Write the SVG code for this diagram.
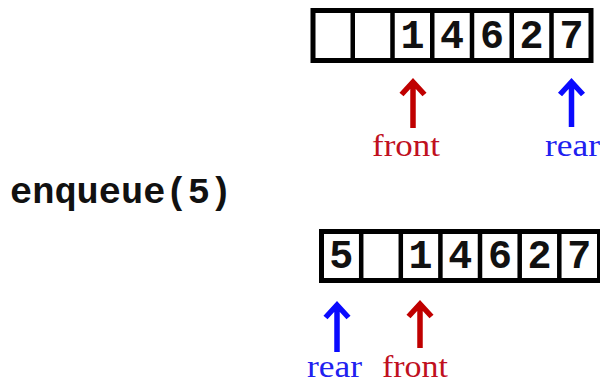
<svg xmlns="http://www.w3.org/2000/svg" width="600" height="385" viewBox="0 0 600 385">
<style>
.box{fill:#fff;stroke:#000;stroke-width:5}
.div{stroke:#000;stroke-width:4.5}
.dig{font-family:"Liberation Mono","Courier New",monospace;font-size:40px;font-weight:bold;fill:#111;text-anchor:middle}
.cmd{font-family:"Liberation Mono","Courier New",monospace;font-size:37px;font-weight:bold;fill:#111}
.lbl{font-family:"Liberation Serif","Times New Roman",serif;font-size:32px}
.red{fill:#c0101e}
.blue{fill:#2020f0}
.ar{fill:none;stroke-width:5.5}
.ar-r{stroke:#c00000}
.ar-b{stroke:#0a0aff}
</style>
<rect width="600" height="385" fill="#fff"/>
<g id="queue-before">
<rect class="box" x="313" y="10.5" width="278" height="50"/>
<path class="div" d="M352.75 10.5V60.5M392.5 10.5V60.5M432.25 10.5V60.5M472 10.5V60.5M511.75 10.5V60.5M551.5 10.5V60.5"/>
<text class="dig" x="412.4" y="48">1</text>
<text class="dig" x="452.1" y="48">4</text>
<text class="dig" x="491.9" y="48">6</text>
<text class="dig" x="531.6" y="48">2</text>
<text class="dig" x="571.4" y="48">7</text>
</g>
<g id="label-front-1"><text class="lbl red" x="372" y="156" textLength="68" lengthAdjust="spacingAndGlyphs">front</text></g>
<g id="label-rear-1"><text class="lbl blue" x="545" y="156" textLength="55" lengthAdjust="spacingAndGlyphs">rear</text></g>
<g id="command"><text class="cmd" x="10" y="203">enqueue(5)</text></g>
<g id="queue-after">
<rect class="box" x="321.5" y="231.5" width="278" height="49"/>
<path class="div" d="M361.2 231.5V280.5M400.8 231.5V280.5M440.4 231.5V280.5M480 231.5V280.5M519.7 231.5V280.5M559.3 231.5V280.5"/>
<text class="dig" x="341.3" y="268">5</text>
<text class="dig" x="420.6" y="268">1</text>
<text class="dig" x="460.2" y="268">4</text>
<text class="dig" x="499.9" y="268">6</text>
<text class="dig" x="539.5" y="268">2</text>
<text class="dig" x="579.2" y="268">7</text>
</g>
<g id="label-rear-2"><text class="lbl blue" x="307" y="377" textLength="55" lengthAdjust="spacingAndGlyphs">rear</text></g>
<g id="label-front-2"><text class="lbl red" x="382" y="377" textLength="66" lengthAdjust="spacingAndGlyphs">front</text></g>
<g id="connectors">
<path class="ar ar-r" d="M413 128V83M401.5 94.5L413 82L424.5 94.5"/>
<path class="ar ar-b" d="M571.5 127V83M560 94.5L571.5 82L583 94.5"/>
<path class="ar ar-b" d="M337 352V306M325.5 317.5L337 305L348.5 317.5"/>
<path class="ar ar-r" d="M420 348V305M408.5 316.5L420 304L431.5 316.5"/>
</g>
</svg>
